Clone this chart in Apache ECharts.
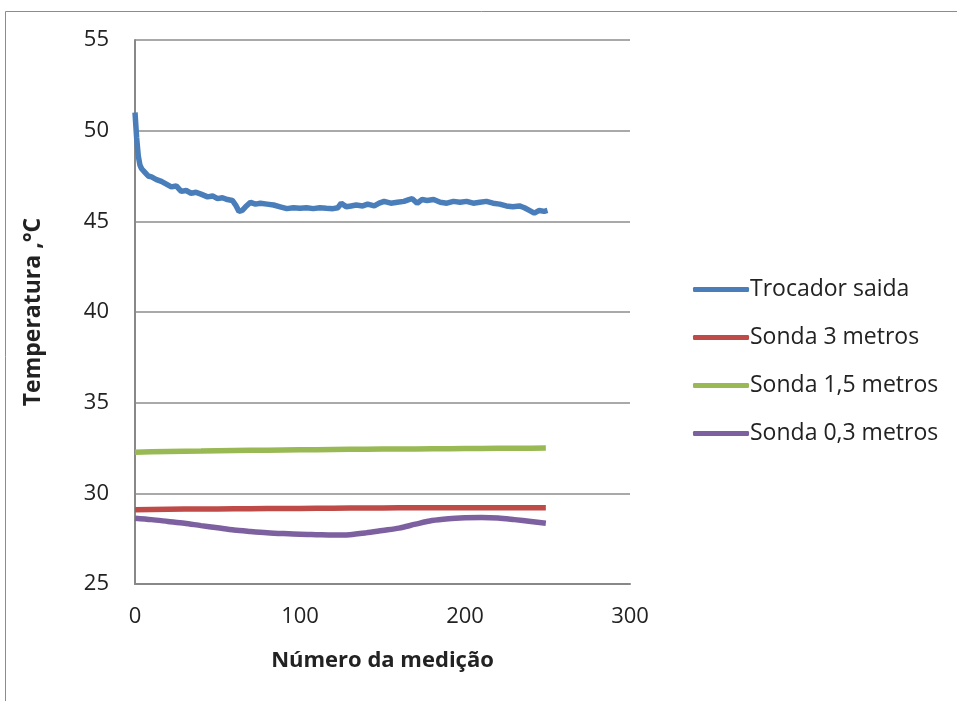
<!DOCTYPE html>
<html>
<head>
<meta charset="utf-8">
<script src="https://cdn.jsdelivr.net/npm/echarts@6/dist/echarts.min.js"></script>
<style>html,body{margin:0;padding:0;background:#fff}#c{width:957px;height:701px}</style>
</head>
<body>
<div id="c"></div>
<script>
const seriesNames = ["Trocador saida", "Sonda 3 metros", "Sonda 1,5 metros", "Sonda 0,3 metros"];
const xTicks = [0, 100, 200, 300];
const yTicks = [25, 30, 35, 40, 45, 50, 55];

const blueX = [0,1,2,3,4,6,8,10,13,16,19,22,25,28,31,34,37,40,44,47,50,53,56,59,61,63,65,67,70,73,76,80,84,88,92,96,100,104,108,112,116,120,123,125,128,131,134,138,141,145,148,151,155,159,163,166,168,171,174,177,181,185,189,193,197,201,205,209,213,217,221,225,229,233,236,239,242,245,248,250];
const blueY = [51.0,49.6,48.6,48.1,47.9,47.7,47.5,47.45,47.3,47.2,47.05,46.9,46.95,46.65,46.7,46.55,46.6,46.5,46.35,46.4,46.25,46.3,46.2,46.15,45.9,45.55,45.6,45.8,46.05,45.95,46.0,45.95,45.9,45.8,45.7,45.75,45.72,45.75,45.7,45.75,45.72,45.7,45.75,46.0,45.8,45.85,45.9,45.85,45.95,45.85,46.0,46.1,46.0,46.05,46.1,46.2,46.25,46.0,46.2,46.15,46.2,46.05,46.0,46.1,46.05,46.1,46.0,46.05,46.1,46.0,45.95,45.85,45.8,45.85,45.75,45.6,45.45,45.6,45.55,45.6];

const probeX = [0,10,20,30,40,50,60,70,80,90,100,110,120,130,140,150,160,170,180,190,200,210,220,230,240,249];
const redY = [29.1,29.11,29.12,29.13,29.14,29.14,29.15,29.15,29.16,29.17,29.17,29.18,29.18,29.19,29.19,29.19,29.2,29.2,29.2,29.2,29.2,29.2,29.2,29.2,29.2,29.2];
const greenY = [32.27,32.29,32.31,32.32,32.33,32.35,32.36,32.37,32.38,32.39,32.40,32.41,32.42,32.43,32.43,32.44,32.44,32.45,32.46,32.46,32.47,32.47,32.48,32.48,32.49,32.5];
const purpleY = [28.63,28.55,28.45,28.35,28.22,28.1,27.98,27.9,27.83,27.78,27.74,27.72,27.7,27.72,27.82,27.95,28.08,28.3,28.5,28.6,28.65,28.67,28.64,28.55,28.45,28.35];

const colors = ["#4A7EBB", "#BE4B48", "#98B954", "#7D60A0"];
const zip = (xs, ys) => xs.map((x, i) => [x, ys[i]]);
const FONT = "Open Sans";

const chart = echarts.init(document.getElementById('c'));
chart.setOption({
  animation: false,
  color: colors,
  graphic: [{
    type: 'rect', shape: { x: 5.5, y: 11.5, width: 1000, height: 800 },
    style: { fill: 'none', stroke: '#8c8c8c', lineWidth: 1 }, silent: true
  }],
  grid: { left: 135, right: 327, top: 40, bottom: 117 },
  legend: {
    orient: 'vertical', left: 688, top: 273,
    itemWidth: 56, itemHeight: 5, itemGap: 25,
    icon: 'roundRect',
    data: seriesNames,
    textStyle: { fontFamily: FONT, fontSize: 23, color: '#222', padding: [0, 0, 0, -4] }
  },
  xAxis: {
    type: 'value', min: 0, max: 300, interval: 100,
    name: 'Número da medição', nameLocation: 'middle', nameGap: 66,
    nameTextStyle: { fontFamily: FONT, fontSize: 22, fontWeight: 'bold', color: '#222' },
    axisLine: { show: true, lineStyle: { color: '#888', width: 2 } },
    axisTick: { show: false },
    splitLine: { show: false },
    axisLabel: { fontFamily: FONT, fontSize: 22, color: '#222', margin: 22,
      formatter: v => xTicks.includes(v) ? String(v) : '' }
  },
  yAxis: {
    type: 'value', min: 25, max: 55, interval: 5,
    name: 'Temperatura ,°C', nameLocation: 'middle', nameGap: 90, nameRotate: 90,
    nameTextStyle: { fontFamily: FONT, fontSize: 23, fontWeight: 'bold', color: '#222' },
    axisLine: { show: true, lineStyle: { color: '#888', width: 2 } },
    axisTick: { show: false },
    splitLine: { show: true, lineStyle: { color: '#8c8c8c', width: 1.5 } },
    axisLabel: { fontFamily: FONT, fontSize: 22, color: '#222', margin: 26,
      formatter: v => yTicks.includes(v) ? String(v) : '' }
  },
  series: [
    { name: seriesNames[0], type: 'line', data: zip(blueX, blueY), showSymbol: false, lineStyle: { width: 5.5 } },
    { name: seriesNames[1], type: 'line', data: zip(probeX, redY), showSymbol: false, lineStyle: { width: 5.5 } },
    { name: seriesNames[2], type: 'line', data: zip(probeX, greenY), showSymbol: false, lineStyle: { width: 5.5 } },
    { name: seriesNames[3], type: 'line', data: zip(probeX, purpleY), showSymbol: false, smooth: 0.3, lineStyle: { width: 5.5 } }
  ]
});
</script>
</body>
</html>
